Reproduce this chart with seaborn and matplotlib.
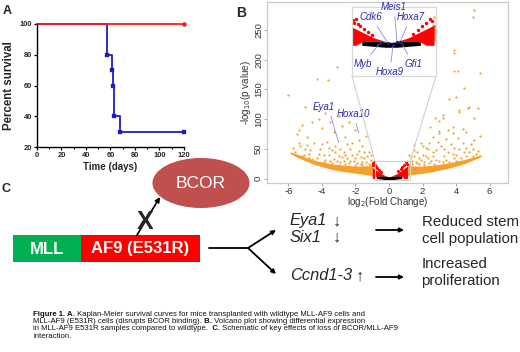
import matplotlib
matplotlib.use("Agg")
import matplotlib.pyplot as plt
import seaborn as sns
import pandas as pd
from matplotlib import font_manager
from matplotlib.patches import Rectangle, Ellipse, ConnectionPatch

# ---------------- data ----------------
# Panel A: Kaplan-Meier survival
wt_time = [0, 57, 61, 62, 63, 68, 120]
wt_surv = [100, 80, 70, 60, 40, 30, 30]
wt_mark_time = [57, 61, 62, 63, 68, 120]
wt_mark_surv = [80, 70, 60, 40, 30, 30]
mut_time = [0, 120]
mut_surv = [100, 100]
mut_mark_time = [120]
mut_mark_surv = [100]
km_xticks = [0, 20, 40, 60, 80, 100, 120]
km_yticks = [20, 40, 60, 80, 100]
legend_labels = ["MLL-AF9 WT", "MLL-AF9 E531R"]
p_text = "p< 0.0012"

# Panel B: volcano plot
orange_x = [-6.05, -5.0, -4.4, -4.3, -3.66, -3.1, -5.4, -5.5, -5.2, -4.9, -4.6, -4.2, -4.0, -3.8,
            -3.5, -3.3, -3.0, -2.8, -2.6, -2.4, -2.2, -2.0, -1.8, -1.6, -1.4, -1.2, -5.6, -5.3,
            -5.0, -4.8, -4.5, -4.3, -4.1, -3.9, -3.7, -3.5, -3.4, -3.2, -3.0, -2.9, -2.7, -2.5,
            -2.3, -2.1, -1.9, -1.7, -1.5, -1.3, -1.1, -2.6, -3.6, -4.7, -2.0, -2.4, -1.6, -3.3,
            -3.9, -4.4,
            -5.7, -5.4, -5.1, -4.9, -4.6, -4.2, -4.0, -3.8, -3.6, -3.4, -3.2, -3.1, -2.9, -2.8,
            -2.6, -2.5, -2.3, -2.2, -2.0, -1.9, -1.8, -1.7, -1.6, -1.5, -1.4, -1.3, -1.2, -1.1,
            -1.05, -4.5, -5.2, -3.0, -2.7, -3.7, -4.8,
            5.1, 5.0, 3.9, 3.9, 3.9, 4.1, 5.4, 4.5, 3.6, 4.0, 4.7, 5.3, 4.2, 3.2, 3.0, 2.75, 5.1,
            2.45, 3.0, 3.5, 3.8, 4.4, 4.6, 3.2, 4.2, 4.8, 5.4, 5.1, 3.8, 3.0, 2.4, 2.3, 3.5, 4.2,
            4.8, 4.4, 1.2, 1.5, 1.8, 2.0, 2.2, 2.6, 2.8, 3.1, 3.3, 3.7, 3.9, 4.1, 4.6, 5.0, 1.4,
            1.7, 2.1, 2.5, 2.9, 3.4, 4.0, 4.9, 5.2,
            1.1, 1.2, 1.3, 1.4, 1.5, 1.6, 1.7, 1.8, 1.9, 2.0, 2.1, 2.3, 2.4, 2.6, 2.7, 2.8, 3.0,
            3.2, 3.4, 3.6, 3.8, 4.0, 4.3, 4.5, 4.7, 5.0, 5.3, 2.2, 1.5, 3.3, 3.9, 4.6, 1.9, 2.6]
orange_y = [141, 120, 117, 168, 166, 188, 82, 75, 90, 70, 95, 100, 85, 110,
            95, 78, 105, 88, 70, 95, 60, 82, 65, 55, 72, 45, 45, 55,
            50, 42, 60, 35, 50, 40, 62, 30, 48, 55, 38, 28, 45, 35,
            50, 30, 42, 25, 35, 20, 32, 40, 52, 48, 22, 26, 28, 33,
            27, 30,
            52, 60, 40, 56, 33, 42, 58, 32, 40, 26, 44, 30, 50, 36,
            24, 58, 30, 40, 34, 26, 46, 36, 22, 44, 28, 38, 25, 22,
            40, 28, 38, 22, 30, 25, 34,
            283, 272, 216, 211, 181, 181, 178, 152, 134, 138, 119, 119, 112, 102, 96, 102, 102,
            87, 80, 82, 77, 84, 79, 107, 116, 121, 71, 65, 87, 77, 60, 49, 44, 49,
            44, 60, 40, 48, 35, 55, 38, 45, 32, 55, 38, 58, 35, 68, 38, 50, 30,
            26, 28, 30, 62, 66, 30, 58, 42,
            30, 22, 36, 24, 38, 28, 44, 24, 32, 40, 22, 34, 26, 38, 25, 48, 30,
            28, 32, 28, 42, 40, 34, 45, 32, 38, 47, 52, 56, 50, 52, 52, 60, 70]
bandL_x = [-5.9, -5.5, -5.0, -4.5, -4.0, -3.5, -3.0, -2.5, -2.0, -1.5, -1.0]
bandL_lo = [42, 36, 30, 24, 20, 16, 13, 11, 9, 7, 5]
bandL_hi = [45, 41, 36, 31, 28, 25, 23, 22, 21, 21, 22]
bandR_x = [1.05, 1.5, 2.0, 2.5, 3.0, 3.5, 4.0, 4.5, 5.0, 5.5]
bandR_lo = [5, 7, 9, 11, 14, 17, 21, 25, 31, 37]
bandR_hi = [22, 21, 21, 22, 24, 26, 29, 32, 36, 40]
red_x = [-1.0, -0.9, -0.75, -0.6, -0.45, -0.3, -0.15, 0.0, 0.15, 0.3, 0.45, 0.6, 0.75, 0.9, 1.05, 1.1]
red_top = [19, 17, 14, 11, 8, 6, 4, 3, 4, 6, 8, 11, 14, 17, 20, 21]
red_bot = [0, 0, 3.5, 4.5, 4.5, 4, 3.5, 3, 3.5, 4, 4.5, 4.5, 3.5, 0, 0, 0]
black_x = [-0.75, -0.6, -0.45, -0.3, -0.15, 0.0, 0.15, 0.3, 0.45, 0.6, 0.75]
black_top = [3.5, 4.5, 4.5, 4, 3.5, 3, 3.5, 4, 4.5, 4.5, 3.5]
black_bot = [0, -0.5, -1, -1.5, -2, -2, -2, -1.5, -1, -0.5, 0]
redpt_x = [-0.98, -0.95, -0.9, -0.85, -0.8, -0.7, -0.6, -0.5, 0.55, 0.7, 0.8, 0.9, 1.0, 1.05]
redpt_y = [26, 23, 27, 22, 20, 17, 14, 11, 12, 16, 20, 23, 27, 25]
main_genes = ["Eya1", "Hoxa10"]
main_gene_x = [-3.0, -1.8]
main_gene_y = [60, 77]
inset_genes = ["Myb", "Cdk6", "Meis1", "Hoxa7", "Hoxa9", "Gfi1"]
inset_gene_x = [-0.28, -0.08, 0.15, 0.23, 0.05, 0.28]
inset_gene_y = [2.4, 2.4, 3.5, 3.5, 0.0, 1.5]
volc_xticks = [-6, -4, -2, 0, 2, 4, 6]
volc_yticks = [0, 50, 100, 150, 200, 250]

# Panel C / caption text
caption_lines = [
    [("Figure 1. A.", "bold"), (" Kaplan-Meier survival curves for mice transplanted with wildtype MLL-AF9 cells and", "normal")],
    [("MLL-AF9 (E531R) cells (disrupts BCOR binding).", "normal"), (" B.", "bold"), (" Volcano plot showing differential expression", "normal")],
    [("in MLL-AF9 E531R samples compared to wildtype.", "normal"), ("  C.", "bold"), (" Schematic of key effects of loss of BCOR/MLL-AF9", "normal")],
    [("interaction.", "normal")],
]

# ---------------- style ----------------
sns.set_theme(style="ticks")
plt.rcParams["font.family"] = ["Liberation Sans", "DejaVu Sans"]
names = {f.name for f in font_manager.fontManager.ttflist}
narrow_ok = "Liberation Sans Narrow" in names
NARROW = ["Liberation Sans Narrow", "Liberation Sans"] if narrow_ok else ["Liberation Sans"]

W, H = 520, 352
fig = plt.figure(figsize=(5.2, 3.52), dpi=100)

def rect(l, t, r, b):
    return [l / W, 1 - b / H, (r - l) / W, (b - t) / H]

# overlay axes in pixel coordinates
ov = fig.add_axes([0, 0, 1, 1])
ov.set_xlim(0, W)
ov.set_ylim(H, 0)
ov.axis("off")

BLUE = "#1c1cc8"
RED = "#ff1a1a"

# ---------------- Panel A ----------------
axA = fig.add_axes(rect(37, 24, 184, 147))
sns.lineplot(x=wt_time, y=wt_surv, drawstyle="steps-post", color=BLUE, lw=1.3, ax=axA,
             estimator=None, clip_on=False)
sns.lineplot(x=mut_time, y=mut_surv, drawstyle="steps-post", color=RED, lw=1.3, ax=axA,
             estimator=None, clip_on=False)
sns.scatterplot(x=wt_mark_time, y=wt_mark_surv, marker="s", s=8, color=BLUE, ec=BLUE, ax=axA,
                clip_on=False, zorder=5)
sns.scatterplot(x=mut_mark_time, y=mut_mark_surv, marker="o", s=9, color=RED, ec=RED, ax=axA,
                clip_on=False, zorder=5)
axA.set_xlim(0, 120)
axA.set_ylim(20, 100)
axA.set_xticks(km_xticks)
axA.set_xticks([10, 30, 50, 70, 90, 110], minor=True)
axA.set_yticks(km_yticks)
tfs = 6.1 if narrow_ok else 5.4
axA.set_xticklabels([str(v) for v in km_xticks], fontsize=tfs, fontweight="bold", family=NARROW)
axA.set_yticklabels([str(v) for v in km_yticks], fontsize=tfs, fontweight="bold", family=NARROW)
axA.tick_params(axis="both", which="major", length=2.5, width=0.9, pad=1, color="black")
axA.tick_params(axis="x", which="minor", length=1.5, width=0.8, color="black")
for s in ["top", "right"]:
    axA.spines[s].set_visible(False)
for s in ["left", "bottom"]:
    axA.spines[s].set_linewidth(1.0)
    axA.spines[s].set_color("black")
axA.set_xlabel("Time (days)", fontsize=8.6 if narrow_ok else 7.0, fontweight="bold", family=NARROW, labelpad=2)
axA.set_ylabel("Percent survival", fontsize=10 if narrow_ok else 8.3, fontweight="bold", family=NARROW, labelpad=3)
# legend (manual)
lfs = 5.0 if narrow_ok else 4.4
ov.scatter([41.7], [33.3], marker="s", s=5, color=BLUE)
ov.text(47.5, 33.3, legend_labels[0], fontsize=lfs, fontweight="bold", style="italic", va="center", family=NARROW)
ov.scatter([41.7], [42.3], marker="o", s=6, color=RED)
ov.text(47.5, 42.3, legend_labels[1], fontsize=lfs, fontweight="bold", style="italic", va="center", family=NARROW)
ov.text(142, 28.5, p_text, fontsize=3.4, fontweight="bold", va="center", family=NARROW)

# ---------------- Panel B ----------------
axB = fig.add_axes(rect(267, 2, 508, 183))
GRAY = "#c8c8c8"
ORANGE = "#f5a02a"
def draw_volcano(ax, ms):
    ax.fill_between(bandL_x, bandL_lo, bandL_hi, color=ORANGE, lw=0)
    ax.fill_between(bandR_x, bandR_lo, bandR_hi, color=ORANGE, lw=0)
    ax.fill_between(red_x, red_bot, red_top, color="#ff0000", lw=0)
    ax.fill_between(black_x, black_bot, black_top, color="black", lw=0)
    df = pd.DataFrame({"x": orange_x, "y": orange_y})
    sns.scatterplot(data=df, x="x", y="y", s=ms, color=ORANGE, linewidth=0, ax=ax)
    dr = pd.DataFrame({"x": redpt_x, "y": redpt_y})
    sns.scatterplot(data=dr, x="x", y="y", s=ms * 2, color="#ff0000", linewidth=0, ax=ax)

draw_volcano(axB, 2.5)
axB.set_xlim(-7.28, 7.1)
axB.set_ylim(-7.5, 297)
axB.set_xticks(volc_xticks)
axB.set_yticks(volc_yticks)
axB.set_xticklabels([str(v) for v in volc_xticks])
axB.set_yticklabels([str(v) for v in volc_yticks], rotation=90, va="center")
axB.tick_params(axis="both", labelsize=6.8, length=2, width=0.6, color="#999999",
                labelcolor="#333333", pad=0.8)
for s in axB.spines.values():
    s.set_color(GRAY)
    s.set_linewidth(0.9)
axB.set_xlabel(r"log$_2$(Fold Change)", fontsize=7, color="#333333", labelpad=-0.5)
axB.set_ylabel(r"-log$_{10}$(p value)", fontsize=7, color="#333333", labelpad=1)
axB.add_patch(Rectangle((-0.84, -3), 2.09, 32, fill=False, ec="#d0d0d0", lw=0.8, zorder=4))
GENE_C = "#2a2ab4"
LINE_C = "#8c8cd8"
axB.annotate(main_genes[0], xy=(main_gene_x[0], main_gene_y[0]), xytext=(-3.88, 121),
             ha="center", va="center", fontsize=7, style="italic", color=GENE_C,
             arrowprops=dict(arrowstyle="-", color=LINE_C, lw=0.6, shrinkA=1, shrinkB=0, relpos=(0.75, 0)))
axB.annotate(main_genes[1], xy=(main_gene_x[1], main_gene_y[1]), xytext=(-2.15, 109),
             ha="center", va="center", fontsize=7, style="italic", color=GENE_C,
             arrowprops=dict(arrowstyle="-", color=LINE_C, lw=0.6, shrinkA=1, shrinkB=0, relpos=(0.55, 0)))

# inset
axI = fig.add_axes(rect(352, 7, 436, 76))
draw_volcano(axI, 3)
sns.scatterplot(x=inset_gene_x, y=inset_gene_y, s=5, color="#1a1aa0", linewidth=0, ax=axI, zorder=5)
axI.set_xlim(-1.0, 1.15)
axI.set_ylim(-32, 40)
axI.set_xticks([])
axI.set_yticks([])
axI.set_xlabel("")
axI.set_ylabel("")
for s in axI.spines.values():
    s.set_color("#d8d8d8")
    s.set_linewidth(0.9)
inset_text_pos = [(0.13, 0.174), (0.226, 0.855), (0.50, 1.0), (0.70, 0.855), (0.45, 0.058), (0.726, 0.174)]
for g, gx, gy, (tx, ty) in zip(inset_genes, inset_gene_x, inset_gene_y, inset_text_pos):
    axI.annotate(g, xy=(gx, gy), xytext=(tx, ty), textcoords="axes fraction",
                 ha="center", va="center", fontsize=7, style="italic", color=GENE_C,
                 annotation_clip=False,
                 arrowprops=dict(arrowstyle="-", color=LINE_C, lw=0.6, shrinkA=1, shrinkB=0))
for (fa, xb) in [((0, 0), -0.84), ((1, 0), 1.25)]:
    cp = ConnectionPatch(xyA=fa, coordsA=axI.transAxes, xyB=(xb, 29), coordsB=axB.transData,
                         color="#d0d0d0", lw=0.8)
    fig.add_artist(cp)

# ---------------- Panel labels ----------------
ov.text(7, 11, "A", fontsize=9, fontweight="bold", ha="center", va="center")
ov.text(241.5, 13, "B", fontsize=10, fontweight="bold", ha="center", va="center")
ov.text(5.5, 189, "C", fontsize=9, fontweight="bold", ha="center", va="center")

# ---------------- Panel C schematic ----------------
ov.add_patch(Rectangle((12.7, 235), 68.3, 27, color="#00b050", lw=0))
ov.add_patch(Rectangle((81, 235), 119, 27, color="#ff0000", lw=0))
ov.text(46.8, 249, "MLL", color="white", fontsize=12, fontweight="bold", ha="center", va="center")
ov.text(140.5, 249, "AF9 (E531R)", color="white", fontsize=12, fontweight="bold", ha="center", va="center")
ov.add_patch(Ellipse((201, 183), 97, 50, color="#c0504d", lw=0))
ov.text(201, 184, "BCOR", color="white", fontsize=12.5, ha="center", va="center")
ov.annotate("", xy=(160, 197), xytext=(137, 235),
            arrowprops=dict(arrowstyle="-|>", color="black", lw=1.2, mutation_scale=7, shrinkA=0, shrinkB=0))
ov.text(145, 222, "X", fontsize=18, fontweight="bold", ha="center", va="center")
ov.plot([209, 249], [248, 248], color="black", lw=1.3)
for ty in [230, 274]:
    ov.annotate("", xy=(276, ty), xytext=(248, 248),
                arrowprops=dict(arrowstyle="-|>", color="black", lw=1.3, mutation_scale=6, shrinkA=0, shrinkB=0))
for ty in [230, 277]:
    ov.annotate("", xy=(404, ty), xytext=(376, ty),
                arrowprops=dict(arrowstyle="-|>", color="black", lw=1.3, mutation_scale=6, shrinkA=0, shrinkB=0))
gfs = 11.8
ov.text(290, 221, "Eya1", fontsize=gfs, style="italic", ha="left", va="center")
ov.text(333, 221, "\u2193", fontsize=gfs, ha="left", va="center")
ov.text(290, 237.5, "Six1", fontsize=gfs, style="italic", ha="left", va="center")
ov.text(333, 237.5, "\u2193", fontsize=gfs, ha="left", va="center")
ov.text(290, 276, "Ccnd1-3", fontsize=gfs, style="italic", ha="left", va="center")
ov.text(356, 276, "\u2191", fontsize=gfs, ha="left", va="center")
rfs = 10.8
ov.text(421.5, 222.5, "Reduced stem", fontsize=rfs, ha="left", va="center")
ov.text(421.5, 238.5, "cell population", fontsize=rfs, ha="left", va="center")
ov.text(421.5, 263.5, "Increased", fontsize=rfs, ha="left", va="center")
ov.text(421.5, 280.5, "proliferation", fontsize=rfs, ha="left", va="center")

# ---------------- caption ----------------
renderer = fig.canvas.get_renderer()
cap_y = [314, 321.5, 329, 336.5]
for parts, yy in zip(caption_lines, cap_y):
    xx = 33
    for s, wgt in parts:
        t = ov.text(xx, yy, s, fontsize=5.55, fontweight=wgt, ha="left", va="center", color="#111111")
        xx += t.get_window_extent(renderer=renderer).width

fig.savefig("out.png", dpi=100)
